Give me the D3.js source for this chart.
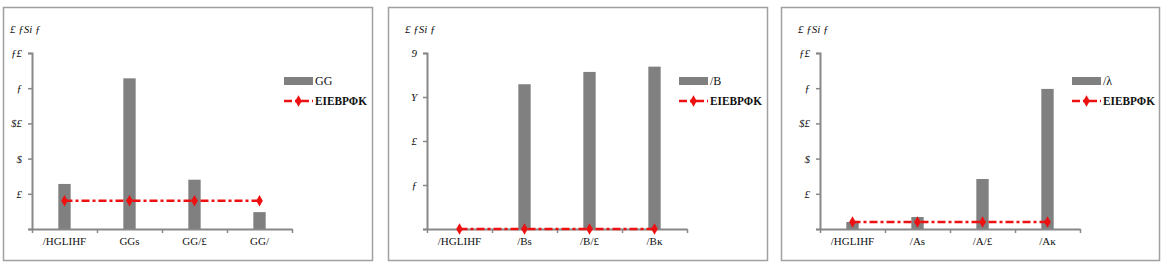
<!DOCTYPE html>
<html>
<head>
<meta charset="utf-8">
<script src="https://cdn.jsdelivr.net/npm/d3@7"></script>
<style>
  body { margin: 0; background: #fff; }
  text { font-family: "Liberation Serif", serif; fill: #111; }
</style>
</head>
<body>
<svg id="chart" width="1163" height="263"></svg>
<script>
// data
var categories1 = ["/HGLIHF", "GG\u0455", "GG/\u00a3", "GG/"];
var bars1 = [0.64, 2.14, 0.70, 0.24];
var line1 = [0.40, 0.40, 0.40, 0.40];
var yTicks1 = [0, 0.5, 1, 1.5, 2, 2.5];
var yLabels1 = ["", "\u00a3", "$", "$\u00a3", "\u0192", "\u0192\u00a3"];

var categories2 = ["/HGLIHF", "/B\u0455", "/B/\u00a3", "/B\u0138"];
var bars2 = [0, 3.29, 3.57, 3.69];
var line2 = [0, 0, 0, 0];
var yTicks2 = [0, 1, 2, 3, 4];
var yLabels2 = ["", "\u0192", "\u00a3", "Y", "9"];

var categories3 = ["/HGLIHF", "/A\u0455", "/A/\u00a3", "/A\u0138"];
var bars3 = [0.10, 0.17, 0.71, 1.99];
var line3 = [0.10, 0.10, 0.10, 0.10];
var yTicks3 = [0, 0.5, 1, 1.5, 2, 2.5];
var yLabels3 = ["", "\u00a3", "$", "$\u00a3", "\u0192", "\u0192\u00a3"];

var unitLabel = "\u00a3 \u0192Si \u0192";
var barNames = ["GG", "/B", "/\u03bb"];
var lineName = "\u0395\u0399\u0395\u0392\u03a1\u03a6\u039a";

var panels = [
  {x: 3,   w: 369, plotLeft: 29, cats: categories1, bars: bars1, line: line1, ticks: yTicks1, labels: yLabels1, max: 2.5, barName: barNames[0]},
  {x: 388, w: 379, plotLeft: 39, cats: categories2, bars: bars2, line: line2, ticks: yTicks2, labels: yLabels2, max: 4,   barName: barNames[1]},
  {x: 781, w: 378, plotLeft: 39, cats: categories3, bars: bars3, line: line3, ticks: yTicks3, labels: yLabels3, max: 2.5, barName: barNames[2]}
];

var svg = d3.select("#chart");
var panelTop = 7, panelH = 253;
var plotTop = 53, plotBottom = 229, plotW = 260;

panels.forEach(function(p) {
  var g = svg.append("g").attr("transform", "translate(" + p.x + "," + panelTop + ")");

  // frame
  g.append("rect")
    .attr("x", 0.5).attr("y", 0.5)
    .attr("width", p.w).attr("height", panelH)
    .attr("fill", "none").attr("stroke", "#a0a0a0").attr("stroke-width", 1.5);

  var plot = g.append("g").attr("transform", "translate(" + p.plotLeft + "," + (plotTop - panelTop) + ")");
  var h = plotBottom - plotTop;

  var x = d3.scaleBand().domain(p.cats).range([0, plotW]).paddingInner(0.81).paddingOuter(0.405);
  var xEdge = d3.scaleLinear().domain([0, p.cats.length]).range([0, plotW]);
  var y = d3.scaleLinear().domain([0, p.max]).range([h, 0]);

  // bars
  plot.selectAll(".bar")
    .data(p.bars)
    .enter().append("rect")
      .attr("class", "bar")
      .attr("x", function(d, i) { return x(p.cats[i]); })
      .attr("y", function(d) { return y(d); })
      .attr("width", x.bandwidth())
      .attr("height", function(d) { return h - y(d); })
      .attr("fill", "#808080");

  // y axis
  var yAxis = plot.append("g")
      .call(d3.axisLeft(y)
        .tickValues(p.ticks)
        .tickSize(4)
        .tickPadding(6)
        .tickFormat(function(d, i) { return p.labels[i]; }));
  yAxis.select(".domain").attr("stroke", "#888").attr("stroke-width", 2);
  yAxis.selectAll(".tick line").attr("stroke", "#888").attr("stroke-width", 1.5);
  yAxis.selectAll("text").style("font-size", "11px").style("font-style", "italic").attr("fill", "#444");

  // x axis: ticks between the categories
  var xTicks = plot.append("g")
      .attr("transform", "translate(0," + h + ")")
      .call(d3.axisBottom(xEdge).ticks(p.cats.length).tickSize(4).tickSizeOuter(0).tickFormat(""));
  xTicks.select(".domain").attr("stroke", "#888").attr("stroke-width", 2);
  xTicks.selectAll(".tick line").attr("stroke", "#888").attr("stroke-width", 1.5);

  var xLabels = plot.append("g")
      .attr("transform", "translate(0," + h + ")")
      .call(d3.axisBottom(x).tickSize(0).tickPadding(8));
  xLabels.select(".domain").remove();
  xLabels.selectAll("text").style("font-size", "11px").attr("fill", "#000");

  // dash-dot line with diamonds
  var lineGen = d3.line()
    .x(function(d, i) { return x(p.cats[i]) + x.bandwidth() / 2; })
    .y(function(d) { return y(d); });
  plot.append("path")
    .datum(p.line)
    .attr("d", lineGen)
    .attr("fill", "none")
    .attr("stroke", "#ee1111")
    .attr("stroke-width", 2.5)
    .attr("stroke-dasharray", "8,3,3,3");
  plot.selectAll(".pt")
    .data(p.line)
    .enter().append("path")
      .attr("class", "pt")
      .attr("d", d3.symbol().type(d3.symbolDiamond).size(38))
      .attr("transform", function(d, i) {
        return "translate(" + (x(p.cats[i]) + x.bandwidth() / 2) + "," + y(d) + ")";
      })
      .attr("fill", "#ee1111");

  // unit label
  g.append("text")
    .attr("x", p.plotLeft - 22).attr("y", 33 - panelTop)
    .style("font-size", "11px").style("font-style", "italic")
    .text(unitLabel);

  // legend
  var lg = g.append("g").attr("transform", "translate(" + (p.plotLeft + 252) + ",0)");
  lg.append("rect")
    .attr("x", 0).attr("y", 77 - panelTop).attr("width", 29).attr("height", 8)
    .attr("fill", "#808080");
  lg.append("text")
    .attr("x", 31).attr("y", 85 - panelTop)
    .style("font-size", "12px")
    .text(p.barName);
  lg.append("line")
    .attr("x1", 0).attr("x2", 29)
    .attr("y1", 101 - panelTop).attr("y2", 101 - panelTop)
    .attr("stroke", "#ee1111").attr("stroke-width", 2.5)
    .attr("stroke-dasharray", "8,3,3,3");
  lg.append("path")
    .attr("d", d3.symbol().type(d3.symbolDiamond).size(38))
    .attr("transform", "translate(14.5," + (101 - panelTop) + ")")
    .attr("fill", "#ee1111");
  lg.append("text")
    .attr("x", 31).attr("y", 105 - panelTop)
    .attr("textLength", 52).attr("lengthAdjust", "spacingAndGlyphs")
    .style("font-size", "12px").style("font-weight", "bold")
    .text(lineName);
});
</script>
</body>
</html>
